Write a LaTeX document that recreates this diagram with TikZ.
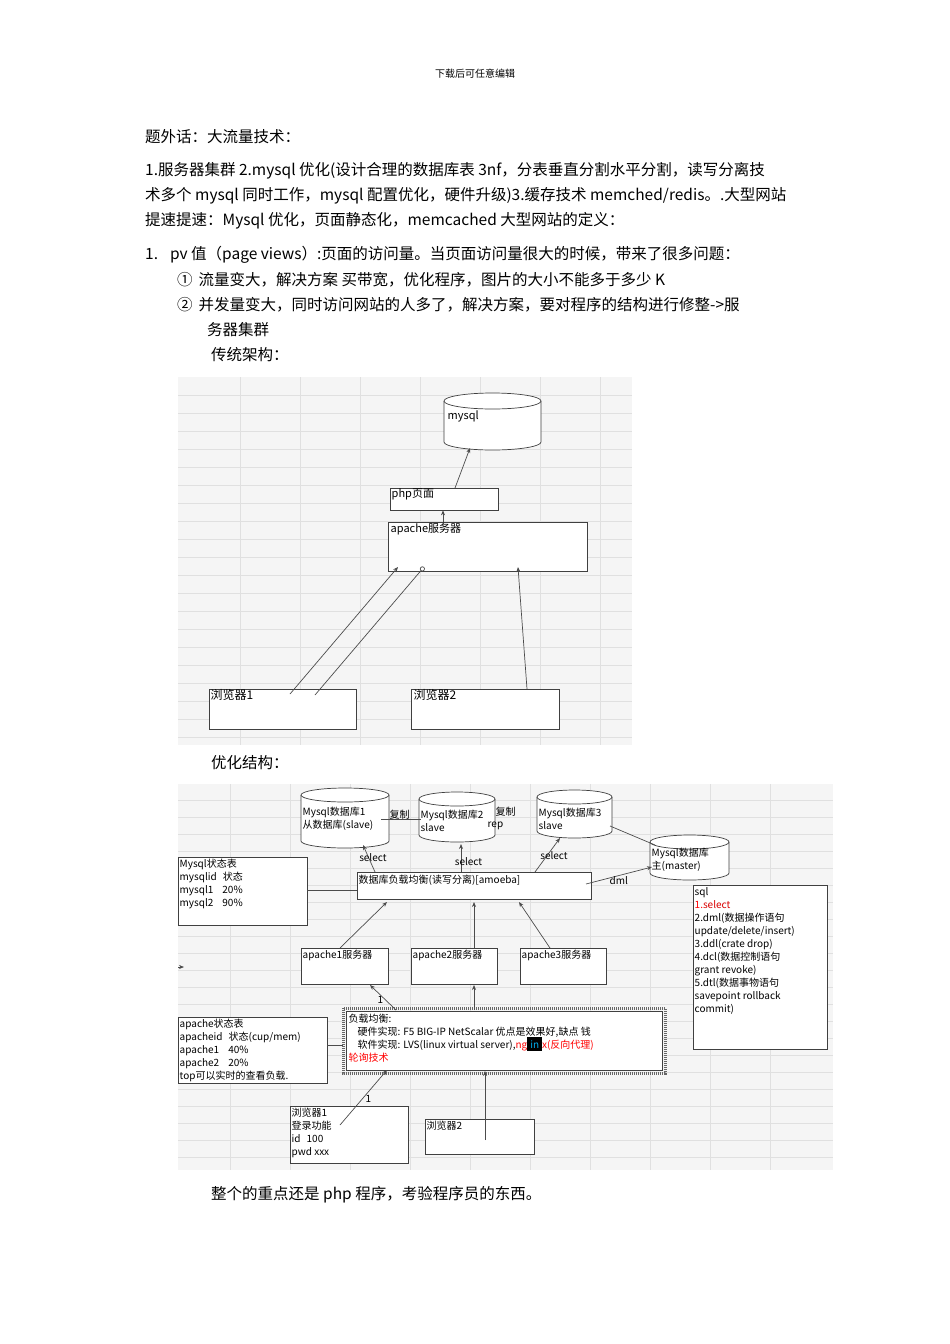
\documentclass[tikz,border=0pt]{standalone}
\usepackage{fontspec}
\setmainfont{Liberation Serif}
\newfontfamily\cjk{Noto Sans CJK SC}
\usetikzlibrary{arrows.meta}
\begin{document}
\begin{tikzpicture}[x=1pt,y=-1pt,
 body/.style={anchor=west,inner sep=0,font=\cjk\fontsize{15.5}{17}\selectfont},
 dg/.style={anchor=north west,inner sep=1.5pt,font=\cjk\fontsize{10}{13}\selectfont,align=left},
 bx/.style={draw=black!75,line width=0.7pt},
 ln/.style={draw=black!70,line width=0.7pt},
 ar/.style={ln,-{Stealth[length=5pt,width=4pt]}}]
\useasboundingbox (0,0) rectangle (950,1344);
\fill[white] (0,0) rectangle (950,1344);
% body text
\node[anchor=center,inner sep=0,font=\cjk\fontsize{10}{12}\selectfont] (hdr) at (475,74) {下载后可任意编辑};
\node[body] (t1) at (145,137) {题外话：大流量技术：};
\node[body] (t2) at (145,171) {1.服务器集群 2.mysql 优化(设计合理的数据库表 3nf，分表垂直分割水平分割，读写分离技};
\node[body] (t3) at (145,196) {术多个 mysql 同时工作，mysql 配置优化，硬件升级)3.缓存技术 memched/redis。.大型网站};
\node[body] (t4) at (145,221) {提速提速：Mysql 优化，页面静态化，memcached 大型网站的定义：};
\node[body] (t5) at (145,255) {1.\hspace{12pt}pv 值（page views）:页面的访问量。当页面访问量很大的时候，带来了很多问题：};
\node[body] (t6) at (177,280) {①\hspace{6pt}流量变大，解决方案 买带宽，优化程序，图片的大小不能多于多少 K};
\node[body] (t7) at (177,305) {②\hspace{6pt}并发量变大，同时访问网站的人多了，解决方案，要对程序的结构进行修整->服};
\node[body] (t8) at (207,330) {务器集群};
\node[body] (t9) at (211,355) {传统架构：};
\node[body] (t10) at (211,763) {优化结构：};
\node[body] (t11) at (211,1195) {整个的重点还是 php 程序，考验程序员的东西。};
% ---- diagram 1
\fill[black!4] (178,377) rectangle (632,745);
\foreach \y in {395,413,431,449,467,485,503,521,539,557,575,593,611,629,647,665,683,701,719,737} \draw[black!12,line width=0.3pt] (178,\y) -- (632,\y);
\foreach \x in {240,300,360,420,480,540,600} \draw[black!12,line width=0.3pt] (\x,377) -- (\x,745);
\filldraw[bx,fill=white] (444,401) -- (444,442) arc[start angle=180,end angle=0,x radius=48.5,y radius=8] -- (541,401);
\filldraw[bx,fill=white] (492.5,401) ellipse[x radius=48.5,y radius=8];
\node[dg,font=\cjk\fontsize{11}{13}\selectfont] (mysql) at (446,409) {mysql};
\coordinate (mysqlb) at (470,448);
\node[bx,fill=white,minimum width=108pt,minimum height=22pt,inner sep=0] (php) at (444,499) {};
\node[dg,font=\cjk\fontsize{11}{13}\selectfont] at (390,487) {php页面};
\node[bx,fill=white,minimum width=199pt,minimum height=49pt,inner sep=0] (apache) at (487.5,546.5) {};
\node[dg,font=\cjk\fontsize{11}{13}\selectfont] at (389,522) {apache服务器};
\node[bx,fill=white,minimum width=147pt,minimum height=40pt,inner sep=0] (b1) at (282.5,709) {};
\node[dg,font=\cjk\fontsize{12}{14}\selectfont] at (209,688) {浏览器1};
\node[bx,fill=white,minimum width=148pt,minimum height=40pt,inner sep=0] (b2) at (485,709) {};
\node[dg,font=\cjk\fontsize{12}{14}\selectfont] at (412,688) {浏览器2};
\draw[ar] (455,488) -- (mysqlb);
\draw[ar] (443,522) -- (php.south -| 443,0);
\coordinate (a1) at (398,567); \coordinate (a2) at (424,567); \coordinate (a3) at (518,567);
\coordinate (p1) at (290,694); \coordinate (p2) at (315,695); \coordinate (p3) at (527,689);
\draw[ar] (p1) -- (a1);
\draw[ln,-{Circle[open,length=5pt]}] (p2) -- (a2);
\draw[ar] (p3) -- (a3);
% ---- diagram 2
\fill[black!4] (178,784) rectangle (833,1170);
\foreach \y in {800,817,834,851,868,885,902,919,936,953,970,987,1004,1021,1038,1055,1072,1089,1106,1123,1140,1157} \draw[black!12,line width=0.3pt] (178,\y) -- (833,\y);
\foreach \x in {230,290,350,410,470,530,590,650,710,770} \draw[black!12,line width=0.3pt] (\x,784) -- (\x,1170);
\def\cyl#1#2#3#4{\filldraw[bx,fill=white] (#1,#3) -- (#1,#4) arc[start angle=180,end angle=0,x radius={(#2-#1)/2},y radius=7] -- (#2,#3);
 \filldraw[bx,fill=white] ({(#1+#2)/2},#3) ellipse[x radius={(#2-#1)/2},y radius=7];}
\cyl{301}{389}{795}{841}
\cyl{419}{495}{799}{835}
\cyl{537}{612}{797}{831}
\cyl{650}{729}{842}{873}
\node[dg] (db1) at (301,805) {Mysql数据库1\\从数据库(slave)};
\node[dg] (db2) at (419,808) {Mysql数据库2\\slave};
\node[dg] (db3) at (537,806) {Mysql数据库3\\slave};
\node[dg] (dbm) at (650,846) {Mysql数据库\\主(master)};
\node[dg] at (388,808) {复制};
\node[dg] at (494,805) {复制};
\node[dg] at (486,820) {rep};
\draw[ln] (381,819) -- (421,819);
\draw[ln] (610,826) -- (655,845);
\node[bx,fill=white,minimum width=129pt,minimum height=68pt,inner sep=0] (mst) at (242.5,891) {};
\node[dg] at (178,857) {Mysql状态表\\mysqlid\hspace{6pt}状态\\mysql1\hspace{9pt}20\%\\mysql2\hspace{9pt}90\%};
\node[bx,fill=white,minimum width=234pt,minimum height=27pt,inner sep=0] (amo) at (474,885.5) {};
\node[dg] at (357,873) {数据库负载均衡(读写分离)[amoeba]};
\draw[ln] (mst.east |- 0,890) -- (357,890);
\draw[ar] (375,872) -- (363,845) node[pos=0.3,dg,anchor=south west,xshift=-14pt] {select};
\draw[ar] (461,872) -- (461,844) node[pos=0.15,dg,anchor=south west,xshift=-8pt] {select};
\draw[ar] (535,872) -- (560,838) node[pos=0.3,dg,anchor=south west,xshift=-4pt] {select};
\draw[ar] (586,884) -- (652,867);
\node[dg] at (608,875) {dml};
\node[bx,fill=white,minimum width=134pt,minimum height=164pt,inner sep=0] (sqlb) at (760,967) {};
\node[dg] at (693,886) {sql\\\textcolor{red}{1.}\textcolor{red!85!black}{select}\\2.dml(数据操作语句\\update/delete/insert)\\3.ddl(crate drop)\\4.dcl(数据控制语句\\grant revoke)\\5.dtl(数据事物语句\\savepoint rollback\\commit)};
\coordinate (stub) at (178,967);
\draw[ar] (stub) -- ++(6,0);
\node[bx,fill=white,minimum width=87pt,minimum height=36pt,inner sep=0] (ap1) at (344.5,966) {};
\node[dg] at (301,948) {apache1服务器};
\node[bx,fill=white,minimum width=86pt,minimum height=36pt,inner sep=0] (ap2) at (454,966) {};
\node[dg] at (411,948) {apache2服务器};
\node[bx,fill=white,minimum width=86pt,minimum height=36pt,inner sep=0] (ap3) at (563,966) {};
\node[dg] at (520,948) {apache3服务器};
\draw[ar] (340,948) -- (387,902);
\draw[ar] (474,948) -- (474,902);
\draw[ar] (550,948) -- (519,902);
\node[bx,fill=white,minimum width=149pt,minimum height=66pt,inner sep=0] (ast) at (252.5,1050) {};
\node[dg] at (178,1017) {apache状态表\\apacheid\hspace{6pt}状态(cup/mem)\\apache1\hspace{9pt}40\%\\apache2\hspace{9pt}20\%\\top可以实时的查看负载.};
\draw[draw=black!60,line width=3pt,dash pattern=on 1pt off 1pt] (343,1008) rectangle (665,1073);
\node[bx,fill=white,minimum width=316pt,minimum height=59pt,inner sep=0] (lb) at (504,1040.5) {};
\node[dg] at (347,1012) {负载均衡:\\\hspace{9pt}硬件实现: F5 BIG-IP NetScalar 优点是效果好,缺点 钱\\\hspace{9pt}软件实现: LVS(linux virtual server),\textcolor{red}{ng}\colorbox{black}{\textcolor{cyan}{in}}\textcolor{red}{x(反向代理)}\\\textcolor{red}{轮询技术}};
\draw[ln] (ast.east |- 0,1045) -- (343,1045);
\draw[ar] (396,1010) -- (370,985);
\node[dg] at (376,995) {1};
\draw[ar] (474,1010) -- (474,985);
\node[bx,fill=white,minimum width=118pt,minimum height=57pt,inner sep=0] (br1) at (349,1134.5) {};
\node[dg] at (290,1106) {浏览器1\\登录功能\\id\hspace{6pt}100\\pwd xxx};
\node[bx,fill=white,minimum width=109pt,minimum height=35pt,inner sep=0] (br2) at (479.5,1136.5) {};
\node[dg] at (425,1119) {浏览器2};
\draw[ar] (340,1125) -- (387,1070);
\node[dg] at (364,1094) {1};
\draw[ar] (485,1140) -- (485,1071);
\end{tikzpicture}
\end{document}
